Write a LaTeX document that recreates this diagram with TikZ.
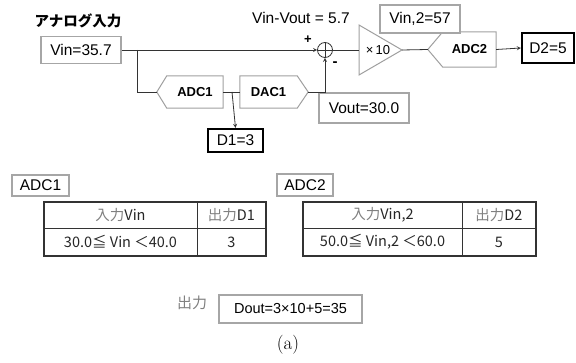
\documentclass[tikz,border=0pt]{standalone}
\usepackage{fontspec}
\setmainfont{Liberation Sans}
\newfontfamily\jpfont{Noto Sans CJK JP}
\newfontfamily\lmfont{Latin Modern Roman}
\usetikzlibrary{calc}

\tikzset{
  graybox/.style={draw=gray!70, line width=1.6pt, fill=white, inner sep=0pt, font=\fontsize{15.5}{17}\selectfont},
  blackbox/.style={draw=black, line width=2.2pt, fill=white, inner sep=0pt, font=\fontsize{15.5}{17}\selectfont},
  convtext/.style={inner sep=0pt, font=\fontsize{13}{15}\selectfont\bfseries},
  convline/.style={draw=gray!75, line width=1pt},
  wire/.style={draw=black!80, line width=0.8pt},
  tabtext/.style={font=\jpfont\fontsize{14.5}{16}\selectfont, text=black!85},
  tabline/.style={draw=black!80, line width=0.8pt},
}

\begin{document}
\begin{tikzpicture}[x=1pt, y=-1pt, >=stealth]
  \useasboundingbox (0,0) rectangle (576,363);

  % input
  \node[font=\jpfont\bfseries\fontsize{14.5}{16}\selectfont] (title) at (78,21) {アナログ入力};
  \node[graybox, minimum width=80, minimum height=27] (vin) at (81,50) {Vin=35.7};

  % summing point and amplifier
  \node[font=\fontsize{15.5}{17}\selectfont] (diff) at (301,18) {Vin-Vout = 5.7};
  \node[circle, draw=black!80, line width=0.8pt, minimum size=15, inner sep=0] (sum) at (325,50) {};
  \draw[wire] (sum.north) -- (sum.south) (sum.west) -- (sum.east);
  \node[font=\bfseries\fontsize{13}{14}\selectfont] (plus) at (308,40) {+};
  \node[font=\bfseries\fontsize{15}{16}\selectfont] (minus) at (335,64) {-};

  \coordinate (ampin) at (359,50);
  \coordinate (ampout) at (402,50);
  \draw[convline] (359,25) -- (ampout) -- (359,75) -- cycle;
  \node[font=\fontsize{13}{15}\selectfont] (gain) at (378,50) {×\,10};

  % converters
  \node[convtext, minimum width=56, minimum height=32] (adc1) at (195,92) {ADC1};
  \coordinate (adc1in) at ($(adc1.west)+(-10,0)$);
  \draw[convline] (adc1in) -- (adc1.north west) -- (adc1.north east) -- (adc1.south east) -- (adc1.south west) -- cycle;

  \node[convtext, minimum width=57, minimum height=32] (dac1) at (268.5,92) {DAC1};
  \coordinate (dac1out) at ($(dac1.east)+(11,0)$);
  \draw[convline] (dac1out) -- (dac1.north east) -- (dac1.north west) -- (dac1.south west) -- (dac1.south east) -- cycle;

  \node[convtext, minimum width=53, minimum height=35] (adc2) at (469.5,49.5) {ADC2};
  \coordinate (adc2in) at ($(adc2.west)+(-15,0)$);
  \draw[convline] (adc2in) -- (adc2.north west) -- (adc2.north east) -- (adc2.south east) -- (adc2.south west) -- cycle;

  % values
  \node[graybox, minimum width=90, minimum height=30] (vout) at (364,108) {Vout=30.0};
  \node[graybox, minimum width=80, minimum height=28] (vin2) at (420,19) {Vin,2=57};
  \node[blackbox, minimum width=55, minimum height=23] (d1) at (235.5,140.5) {D1=3};
  \node[blackbox, minimum width=52, minimum height=30] (d2) at (548,48) {D2=5};

  % wires
  \coordinate (br1) at (137,50);
  \coordinate (br2) at (232,92);
  \draw[wire, ->] (vin.east) -- (sum.west);
  \draw[wire] (br1) |- (adc1in);
  \draw[wire] (adc1.east) -- (dac1.west);
  \draw[wire, ->] (br2) -- (d1.north);
  \draw[wire, ->] (dac1out) -| (sum.south);
  \draw[wire] (sum.east) -- (ampin);
  \draw[wire] (ampout) -- (adc2in);
  \draw[wire, ->] (adc2.east) -- (d2.west);

  % table ADC1
  \node[graybox, minimum width=57, minimum height=21] (tab1name) at (40.5,185.5) {ADC1};
  \draw[tabline, line width=1.8pt] (44,202) rectangle (266,256);
  \draw[tabline] (44,228) -- (266,228) (197,202) -- (197,256);
  \node[tabtext] (t1h1) at (120.5,215) {\textcolor{gray}{入力}Vin};
  \node[tabtext] (t1h2) at (231.5,215) {\textcolor{gray}{出力}D1};
  \node[tabtext] (t1v1) at (120.5,242) {30.0≦ Vin ＜40.0};
  \node[tabtext] (t1v2) at (231.5,242) {3};

  % table ADC2
  \node[graybox, minimum width=56, minimum height=22] (tab2name) at (305,185) {ADC2};
  \draw[tabline, line width=1.8pt] (303,202) rectangle (536,256);
  \draw[tabline] (303,228) -- (536,228) (462,202) -- (462,256);
  \node[tabtext] (t2h1) at (382.5,215) {\textcolor{gray}{入力}Vin,2};
  \node[tabtext] (t2h2) at (499,215) {\textcolor{gray}{出力}D2};
  \node[tabtext] (t2v1) at (382.5,242) {50.0≦ Vin,2 ＜60.0};
  \node[tabtext] (t2v2) at (499,242) {5};

  % output
  \node[font=\jpfont\fontsize{15}{17}\selectfont, text=gray] (outlabel) at (192,303) {出力};
  \node[graybox, font=\fontsize{14.5}{16}\selectfont, minimum width=143, minimum height=28] (dout) at (290.5,309) {Dout=3×10+5=35};

  \node[font=\lmfont\fontsize{19}{21}\selectfont] (caption) at (288,345) {(a)};
\end{tikzpicture}
\end{document}
